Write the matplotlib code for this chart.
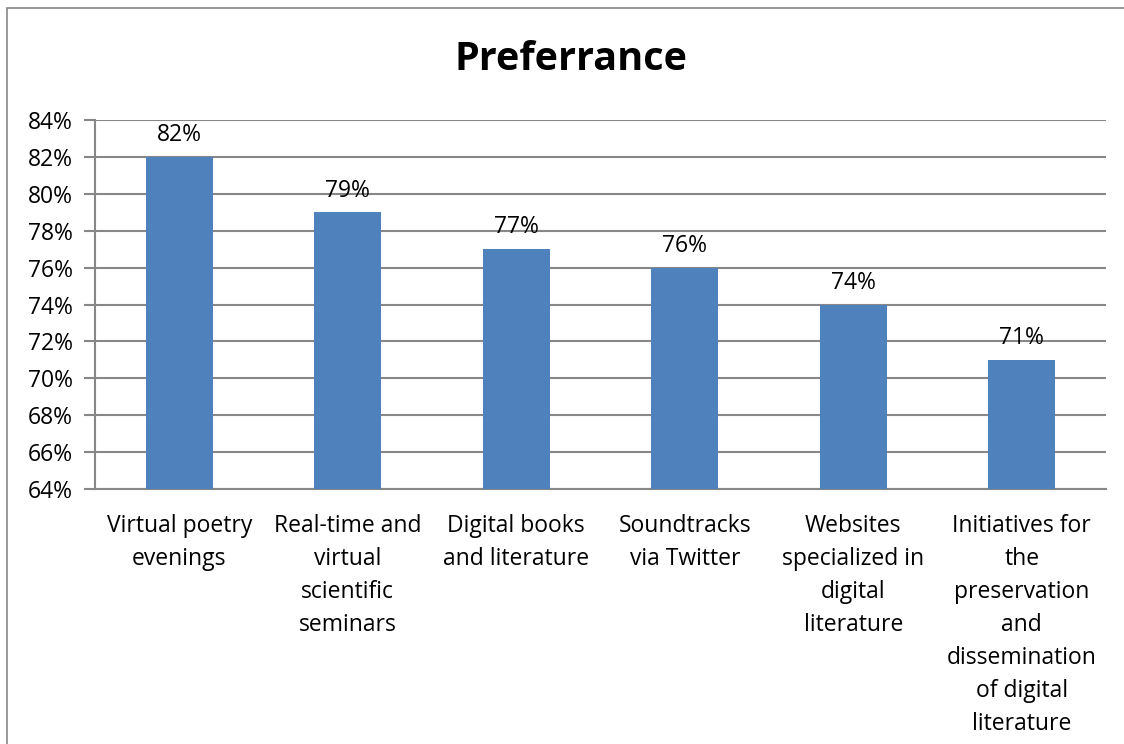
import matplotlib.pyplot as plt
from matplotlib.patches import Rectangle
from matplotlib.ticker import FuncFormatter

plt.rcParams['font.family'] = ['Open Sans', 'DejaVu Sans']

# Datos
categorias = ['Virtual poetry\nevenings',
              'Real-time and\nvirtual\nscientific\nseminars',
              'Digital books\nand literature',
              'Soundtracks\nvia Twitter',
              'Websites\nspecialized in\ndigital\nliterature',
              'Initiatives for\nthe\npreservation\nand\ndissemination\nof digital\nliterature']
valores = [82, 79, 77, 76, 74, 71]
ticks_y = [64, 66, 68, 70, 72, 74, 76, 78, 80, 82, 84]

fig = plt.figure(figsize=(11.24, 7.44), dpi=100)
ax = fig.add_axes([95 / 1124, 1 - 489 / 744, (1106 - 95) / 1124, (489 - 120) / 744])

x = range(len(categorias))
ax.bar(x, valores, width=0.4, color='#4F81BD', zorder=3)
ax.set_ylim(64, 84)
ax.set_xlim(-0.5, len(categorias) - 0.5)
ax.set_yticks(ticks_y)
ax.yaxis.set_major_formatter(FuncFormatter(lambda v, p: f'{v:.0f}%'))
ax.tick_params(axis='y', length=8, width=1.5, color='#878787', labelsize=16.5, pad=8)
ax.set_xticks(list(x))
ax.set_xticklabels(categorias, fontsize=16.5, linespacing=1.5, va='top')
ax.tick_params(axis='x', length=0, pad=18)
ax.grid(axis='y', color='#878787', linewidth=1.5, zorder=0)
for s in ['top', 'right']:
    ax.spines[s].set_visible(False)
for s in ['left', 'bottom']:
    ax.spines[s].set_color('#878787')
    ax.spines[s].set_linewidth(1.5)

# Etiquetas de valor
for i, v in enumerate(valores):
    ax.annotate(f'{v}%', (i, v), xytext=(0, 7), textcoords='offset points',
                ha='center', va='bottom', fontsize=16.5)

fig.text(0.508, 1 - 60 / 744, 'Preferrance', ha='center', va='center',
         fontsize=28.5, fontweight='bold')

# Borde
fig.patches.append(Rectangle((7 / 1124, -0.05), 1.2, 1.05 - 8 / 744,
                             transform=fig.transFigure, fill=False,
                             edgecolor='#878787', linewidth=1.2))

fig.savefig('out.png', dpi=100)
